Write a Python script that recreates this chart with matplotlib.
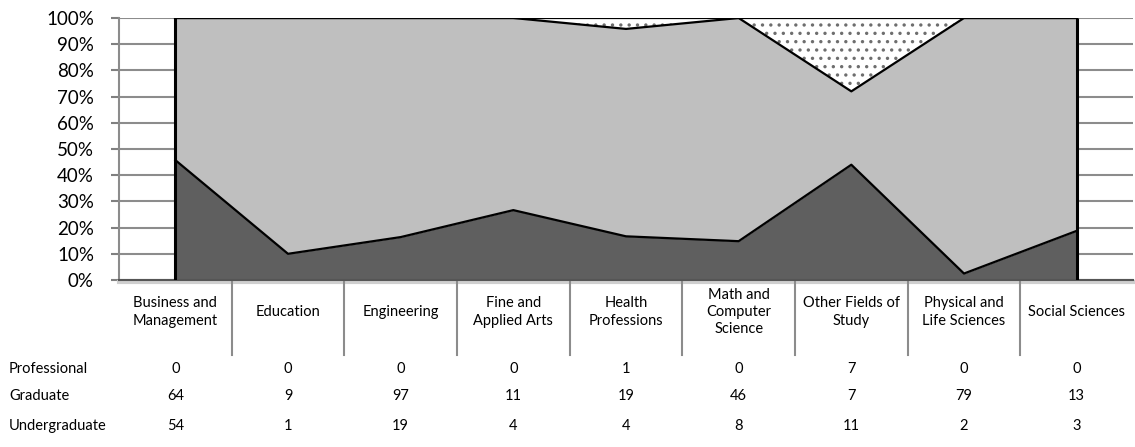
import matplotlib.pyplot as plt
import numpy as np
from matplotlib.ticker import PercentFormatter
from matplotlib.transforms import blended_transform_factory

plt.rcParams['font.family'] = ['Lato', 'DejaVu Sans']
plt.rcParams['hatch.color'] = '#6e6e6e'
plt.rcParams['hatch.linewidth'] = 1.2

fields = ["Business and\nManagement", "Education", "Engineering", "Fine and\nApplied Arts",
          "Health\nProfessions", "Math and\nComputer\nScience", "Other Fields of\nStudy",
          "Physical and\nLife Sciences", "Social Sciences"]
professional = [0, 0, 0, 0, 1, 0, 7, 0, 0]
graduate = [64, 9, 97, 11, 19, 46, 7, 79, 13]
undergraduate = [54, 1, 19, 4, 4, 8, 11, 2, 3]
row_names = ["Professional", "Graduate", "Undergraduate"]

u = np.array(undergraduate, dtype=float)
g = np.array(graduate, dtype=float)
p = np.array(professional, dtype=float)
total = u + g + p
s1 = u / total
s2 = (u + g) / total
s3 = (u + g + p) / total
x = np.arange(len(fields))

fig = plt.figure(figsize=(11.35, 4.47), dpi=100)
ax = fig.add_axes([119 / 1135, 1 - 280 / 447, 1014 / 1135, 262 / 447])

ax.fill_between(x, 0, s1, color='#5f5f5f', lw=0, zorder=2)
ax.fill_between(x, s1, s2, color='#bfbfbf', lw=0, zorder=2)
ax.fill_between(x, s2, s3, facecolor='white', hatch='..', edgecolor='#6e6e6e', lw=0, zorder=2)
for s in (s1, s2, s3):
    ax.plot(x, s, color='black', lw=1.6, zorder=3)
ax.vlines([x[0], x[-1]], 0, 1, colors='black', lw=2.2, zorder=3)

ax.set_xlim(-0.5, len(fields) - 0.5)
ax.set_ylim(0, 1)
ax.set_yticks(np.arange(0, 1.01, 0.1))
ax.yaxis.set_major_formatter(PercentFormatter(1.0, decimals=0))
ax.tick_params(axis='y', length=6, width=1.5, color='#808080', pad=12, labelsize=13.5)
ax.set_xticks([])
ax.yaxis.grid(True, color='#8c8c8c', lw=1.5)
ax.set_axisbelow(True)
for side in ('top', 'right'):
    ax.spines[side].set_visible(False)
ax.spines['left'].set_color('#8c8c8c')
ax.spines['left'].set_linewidth(1.5)
ax.spines['bottom'].set_color('#555555')
ax.spines['bottom'].set_linewidth(1.5)
ax.axhline(-0.008, color='#cfcfcf', lw=3, clip_on=False, zorder=1)

# data table below the chart
tr = ax.get_xaxis_transform()
for i, name in enumerate(fields):
    ax.text(x[i], -0.122, name, transform=tr, ha='center', va='center',
            fontsize=10.5, linespacing=1.3)
for b in x[:-1] + 0.5:
    ax.plot([b, b], [-0.005, -0.285], transform=tr, color='#8c8c8c', lw=1.5, clip_on=False)

ftr = blended_transform_factory(fig.transFigure, ax.transAxes)
rows = [professional, graduate, undergraduate]
row_y = [-0.34, -0.443, -0.557]
for name, vals, yy in zip(row_names, rows, row_y):
    ax.text(9 / 1135, yy, name, transform=ftr, ha='left', va='center', fontsize=10.5)
    for i, v in enumerate(vals):
        ax.text(x[i], yy, str(v), transform=tr, ha='center', va='center', fontsize=10.5)

plt.savefig("out.png", dpi=100)
